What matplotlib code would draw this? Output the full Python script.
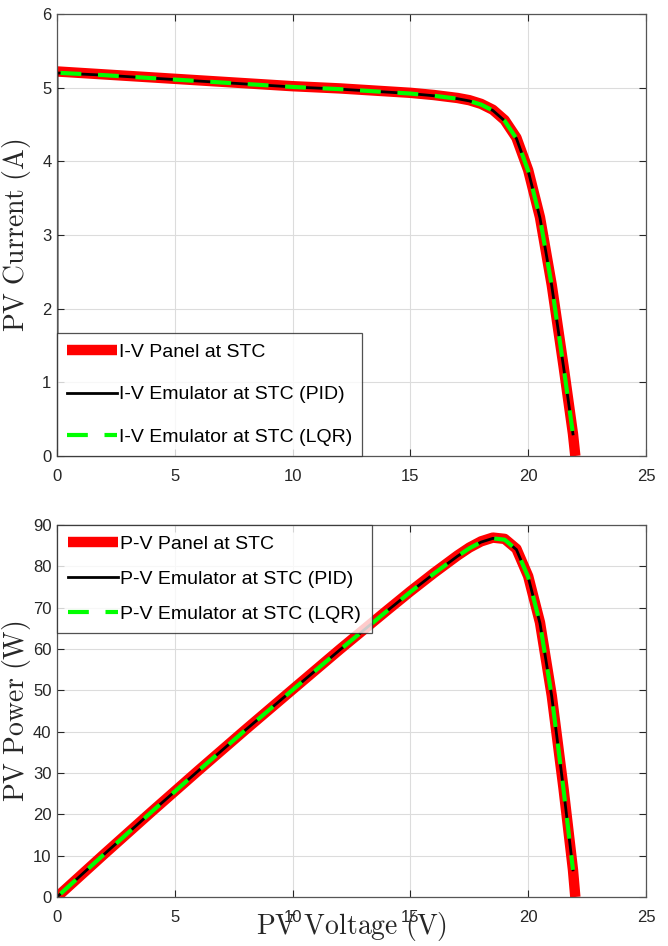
import matplotlib
matplotlib.use("Agg")
import matplotlib.pyplot as plt
import numpy as np

plt.rcParams['font.family'] = ['Liberation Sans', 'DejaVu Sans']
plt.rcParams['mathtext.fontset'] = 'cm'

# Panel I-V data
panel_v = [0, 2, 4, 6, 8, 10, 12, 14, 15, 16, 17, 17.5, 18, 18.5, 19, 19.5, 20, 20.5, 21, 21.5, 21.9, 22.0]
panel_i = [5.22, 5.18, 5.14, 5.10, 5.06, 5.02, 4.99, 4.95, 4.93, 4.90, 4.86, 4.83, 4.78, 4.70, 4.56, 4.32, 3.88, 3.24, 2.32, 1.22, 0.30, 0.0]

# Emulator (PID) data
pid_v = [0, 0, 2, 4, 6, 8, 10, 12, 14, 15, 16, 17, 17.5, 18, 18.5, 19, 19.5, 20, 20.5, 21, 21.5, 21.9]
pid_i = [0.0, 5.20, 5.17, 5.13, 5.09, 5.05, 5.01, 4.98, 4.94, 4.92, 4.89, 4.85, 4.82, 4.77, 4.69, 4.55, 4.31, 3.87, 3.23, 2.31, 1.21, 0.30]

# Emulator (LQR) data
lqr_v = [0.15, 2, 4, 6, 8, 10, 12, 14, 15, 16, 17, 17.5, 18, 18.5, 19, 19.5, 20, 20.5, 21, 21.5, 21.9]
lqr_i = [5.20, 5.17, 5.13, 5.09, 5.05, 5.01, 4.98, 4.94, 4.92, 4.89, 4.85, 4.82, 4.77, 4.69, 4.55, 4.31, 3.87, 3.23, 2.31, 1.21, 0.30]

panel_p = [v * i for v, i in zip(panel_v, panel_i)]
pid_p = [v * i for v, i in zip(pid_v, pid_i)]
lqr_p = [v * i for v, i in zip(lqr_v, lqr_i)]

x_ticks = [0, 5, 10, 15, 20, 25]
iv_yticks = [0, 1, 2, 3, 4, 5, 6]
pv_yticks = [0, 10, 20, 30, 40, 50, 60, 70, 80, 90]

W, H = 668, 946
fig = plt.figure(figsize=(W / 100, H / 100), dpi=100)

def px_axes(l, t, r, b):
    return fig.add_axes([l / W, 1 - b / H, (r - l) / W, (b - t) / H])

ax1 = px_axes(57, 14, 646, 456)
ax2 = px_axes(57, 525, 646, 897)

edge = '#262626'
for ax in (ax1, ax2):
    ax.set_xlim(0, 25)
    ax.set_xticks(x_ticks)
    ax.grid(True, color='#dcdcdc', linewidth=0.8)
    ax.set_axisbelow(True)
    ax.tick_params(direction='in', top=True, right=True, labelsize=12,
                   colors=edge, length=5, width=0.8)
    ax.tick_params(axis='x', pad=9)
    ax.tick_params(axis='y', pad=4)
    for s in ax.spines.values():
        s.set_color('#555555')
        s.set_linewidth(0.9)

red = '#ff0000'
green = '#00ff00'

ax1.plot(panel_v, panel_i, color=red, lw=7.5, label='I-V Panel at STC', solid_capstyle='butt')
ax1.plot(pid_v, pid_i, color='black', lw=2.0, label='I-V Emulator at STC (PID)')
ax1.plot(lqr_v, lqr_i, color=green, lw=3.0, dashes=(5, 4), label='I-V Emulator at STC (LQR)')
ax1.set_ylim(0, 6)
ax1.set_yticks(iv_yticks)
ax1.set_ylabel(r'$\mathrm{PV\ Current\ (A)}$', fontsize=20, color=edge)
ax1.yaxis.set_label_coords(-0.04, 0.5)
leg1 = ax1.legend(loc='lower left', fontsize=14, frameon=True, fancybox=False,
                  edgecolor=edge, borderaxespad=0, handlelength=2.6, handletextpad=0.1,
                  labelspacing=1.3, borderpad=0.5)
leg1.get_frame().set_linewidth(0.9)

ax2.plot(panel_v, panel_p, color=red, lw=7.5, label='P-V Panel at STC', solid_capstyle='butt')
ax2.plot(pid_v, pid_p, color='black', lw=2.0, label='P-V Emulator at STC (PID)')
ax2.plot(lqr_v, lqr_p, color=green, lw=3.0, dashes=(5, 4), label='P-V Emulator at STC (LQR)')
ax2.set_ylim(0, 90)
ax2.set_yticks(pv_yticks)
ax2.set_ylabel(r'$\mathrm{PV\ Power\ (W)}$', fontsize=20, color=edge)
ax2.yaxis.set_label_coords(-0.04, 0.5)
ax2.set_xlabel(r'$\mathrm{PV\ Voltage\ (V)}$', fontsize=20, color=edge)
ax2.xaxis.set_label_coords(0.5, -0.035)
leg2 = ax2.legend(loc='upper left', fontsize=14, frameon=True, fancybox=False,
                  edgecolor=edge, borderaxespad=0, handlelength=2.6, handletextpad=0.1,
                  labelspacing=0.88, borderpad=0.55)
leg2.get_frame().set_linewidth(0.9)

fig.savefig('out.png', dpi=100)
